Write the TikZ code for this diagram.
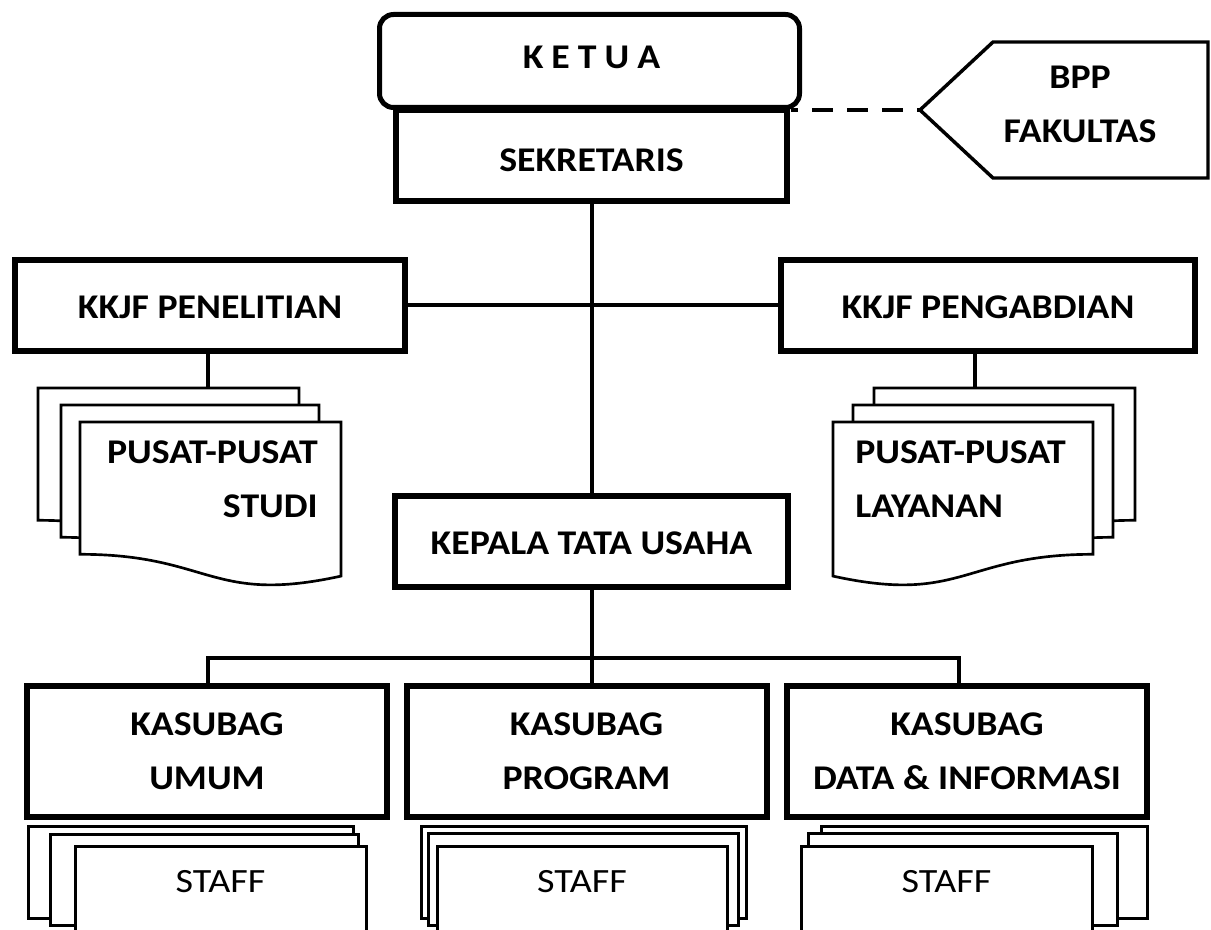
\documentclass[tikz,border=0pt]{standalone}
\usepackage{fontspec}
\setmainfont{Carlito}[FakeStretch=1.09]
\usetikzlibrary{fit,calc}
\newcommand\mainsize{\fontsize{26}{40.5}\selectfont}
\newcommand\docleft[3]{\draw[docshape] (#1,#3) -- (#2,#3) -- (#2,{#3+154.1}) .. controls ({(#1+#2)/2},{#3+182.7}) and ({(#1+#2)/2},{#3+132.3}) .. (#1,{#3+132.3}) -- cycle;}
\newcommand\docright[3]{\draw[docshape] (#1,#3) -- (#2,#3) -- (#2,{#3+132.3}) .. controls ({(#1+#2)/2},{#3+132.3}) and ({(#1+#2)/2},{#3+182.7}) .. (#1,{#3+154.1}) -- cycle;}
\tikzset{
  mainbox/.style={draw, line width=4.5pt, fill=white, inner sep=0pt, outer sep=0pt},
  boxtext/.style={inner sep=0pt, font=\bfseries\mainsize, align=center},
  conn/.style={line width=3pt},
  dashline/.style={line width=3pt, dash pattern=on 15.75pt off 10.5pt, dash phase=10.5pt},
  bppline/.style={line width=2.6pt, line join=miter, fill=white},
  docshape/.style={draw, line width=2pt, fill=white, line join=miter},
  staffbox/.style={draw, line width=2.25pt, fill=white},
  stafftext/.style={inner sep=0pt, font=\fontsize{25.5}{40.5}\selectfont\addfontfeature{FakeStretch=1.12}, anchor=base}
}
\begin{document}
\begin{tikzpicture}[x=0.75pt,y=-0.75pt]
\useasboundingbox (0,0) rectangle (1211,930);
% top
\node[mainbox, fit={(396,110)(787,201)}] (sek) {};
\node[boxtext] (sekt) at (591.5,160) {SEKRETARIS};
\node[mainbox, line width=3.75pt, rounded corners=10.5pt, fit={(379.5,14.5)(799.5,107.5)}] (ketua) {};
\node[boxtext] (ketuat) at (591.5,57.5) {{\spaceskip=6pt K E T U A}};
% BPP
\node[inner sep=0pt, outer sep=0pt, fit={(920,42)(1208,178)}] (bpp) {};
\draw[bppline] (bpp.west) -- ($(bpp.north west)+(73,0)$) -- (bpp.north east) -- (bpp.south east) -- ($(bpp.south west)+(73,0)$) -- cycle;
\node[boxtext] (bppt) at (1080,104) {BPP\\FAKULTAS};
\draw[dashline] ($(ketua.south east)+(-8.5,2.5)$) -- (bpp.west);
% KKJF
\node[mainbox, fit={(15,260)(405,351)}] (pen) {};
\node[boxtext] (pent) at (210,307.5) {KKJF PENELITIAN};
\node[mainbox, fit={(781,260)(1195,351)}] (peng) {};
\node[boxtext] (pengt) at (988,307.5) {KKJF PENGABDIAN};
\node[mainbox, fit={(395,496)(788,587)}] (kepala) {};
\node[boxtext] (kepalat) at (591.5,543) {KEPALA TATA USAHA};
\draw[conn] (pen.east) -- (peng.west);
\draw[conn] (sek.south) -- (kepala.north);
% documents
\coordinate (docA) at (208,388.5);
\coordinate (docB) at (975,388.5);
\draw[conn] (docA |- pen.south) -- (docA);
\draw[conn] (docB |- peng.south) -- (docB);
\docleft{38}{299}{388}
\docleft{61}{319}{405}
\docleft{80}{341}{422}
\node[boxtext, align=right, anchor=east] (studi) at (318,479.5) {PUSAT-PUSAT\\STUDI};
\docright{874}{1135}{388}
\docright{853}{1113}{405}
\docright{833}{1093}{422}
\node[boxtext, align=left, anchor=west] (layanan) at (855,479.5) {PUSAT-PUSAT\\LAYANAN};
% kasubag
\node[mainbox, fit={(27,686)(387,817)}] (umum) {};
\node[boxtext] (umumt) at (umum.center) {KASUBAG\\UMUM};
\node[mainbox, fit={(406.5,686)(766.5,817)}] (prog) {};
\node[boxtext] (progt) at (prog.center) {KASUBAG\\PROGRAM};
\node[mainbox, fit={(787,686)(1147,817)}] (data) {};
\node[boxtext] (datat) at (data.center) {KASUBAG\\DATA \& INFORMASI};
\coordinate (bus) at (0,658);
\draw[conn] (kepala.south) -- (kepala.south |- prog.north);
\draw[conn] (umum.north -| docA) -- (docA |- bus) -- ($(data.north |- bus)+(-8,0)$) -- ($(data.north)+(-8,0)$);
% staff
\draw[staffbox] (28,826) rectangle (353,918);
\draw[staffbox] (50,834) rectangle (358,925);
\draw[staffbox] (75,846) rectangle (366,945);
\node[stafftext] (staffA) at (220.5,892) {STAFF};
\draw[staffbox] (421,826) rectangle (746,918);
\draw[staffbox] (428,833) rectangle (738,925);
\draw[staffbox] (437,846) rectangle (727,945);
\node[stafftext] (staffB) at (582,892) {STAFF};
\draw[staffbox] (821,826) rectangle (1147,918);
\draw[staffbox] (808,833) rectangle (1117,925);
\draw[staffbox] (801,846) rectangle (1092,945);
\node[stafftext] (staffC) at (946.5,892) {STAFF};
\end{tikzpicture}
\end{document}
